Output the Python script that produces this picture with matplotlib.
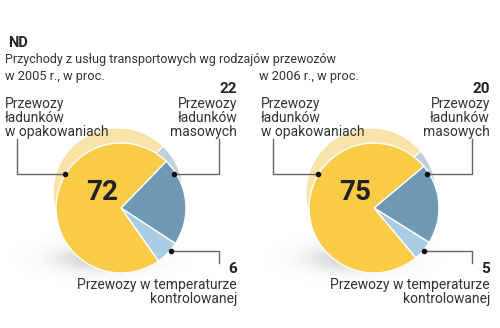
import numpy as np
import matplotlib.pyplot as plt

plt.rcParams['font.family'] = ['Roboto', 'DejaVu Sans']

# shares of transport revenue, per cent
segments = ["Przewozy ładunków masowych",
            "Przewozy w temperaturze kontrolowanej",
            "Przewozy ładunków w opakowaniach"]
share_2005 = [22, 6, 72]
share_2006 = [20, 5, 75]
start_angles = [46, 40]

front_colors = ['#6f98b5', '#a9cce2', '#facb47']
back_colors = ['#bfcfdc', '#d3e1ea', '#f8e3a8']
text_col = '#333333'
line_col = '#666666'

W, H = 500, 328
fig = plt.figure(figsize=(W / 100, H / 100), dpi=100)
ax = fig.add_axes([0, 0, 1, 1])


def shadow(cx, cy, sx, sy):
    xs = np.linspace(cx - 3 * sx, cx + 3 * sx, 120)
    ys = np.linspace(cy - 3 * sy, cy + 3 * sy, 60)
    gx, gy = np.meshgrid(xs, ys)
    a = np.exp(-(((gx - cx) / sx) ** 2 + ((gy - cy) / sy) ** 2) / 2) * 0.45
    img = np.zeros(gx.shape + (4,))
    img[..., :3] = 0.55
    img[..., 3] = a
    ax.imshow(img, extent=(xs[0], xs[-1], ys[0], ys[-1]), origin='lower',
              zorder=0, interpolation='bilinear')


def put_lines(x, y, lines, ha, size=10, step=13.8):
    for i, s in enumerate(lines):
        ax.text(x, y - i * step, s, ha=ha, va='baseline', fontsize=size,
                color=text_col)


def draw_panel(dx, values, start, year_text):
    cx, cy, r = 121 + dx, 120, 65
    shadow(cx - 20, cy - 50, 30, 9)
    ax.pie(values, colors=back_colors, startangle=start, counterclock=False,
           center=(cx - 3, cy + 15), radius=r,
           wedgeprops=dict(edgecolor='white', linewidth=0.8))
    ax.pie(values, colors=front_colors, startangle=start, counterclock=False,
           center=(cx, cy), radius=r,
           wedgeprops=dict(edgecolor='white', linewidth=1.0))

    ax.text(5 if dx == 0 else 259, 248, year_text, ha='left',
            va='baseline', fontsize=9.2, color=text_col)

    # big value of the main segment
    ax.text(cx - 19, 135, str(values[2]), ha='center', va='center',
            fontsize=20, fontweight='bold', color='#222222')

    # left label: packaged goods
    lx = 5 + dx + (3 if dx else 0)
    put_lines(lx, 220, ["Przewozy", "ładunków", "w opakowaniach"], 'left')
    vx = lx + 12
    ax.plot([vx, vx, cx - 56], [189, 154, 154], color=line_col, lw=1,
            zorder=5)
    ax.plot([cx - 56], [154], 'o', color='#111111', ms=3, zorder=6)

    # right label: bulk goods
    rx = 237 + dx
    ax.text(rx, 235, str(values[0]), ha='right', va='baseline',
            fontsize=11, fontweight='bold', color='#222222')
    put_lines(rx, 220, ["Przewozy", "ładunków", "masowych"], 'right')
    ax.plot([rx - 18, rx - 18, cx + 53], [189, 154, 154], color=line_col,
            lw=1, zorder=5)
    ax.plot([cx + 53], [154], 'o', color='#111111', ms=3, zorder=6)

    # bottom label: temperature controlled
    ax.plot([cx + 50, rx - 18, rx - 18], [77, 77, 65], color=line_col,
            lw=1, zorder=5)
    ax.plot([cx + 50], [77], 'o', color='#111111', ms=3, zorder=6)
    ax.text(rx, 55, str(values[1]), ha='right', va='baseline',
            fontsize=11, fontweight='bold', color='#222222')
    put_lines(rx, 39, ["Przewozy w temperaturze", "kontrolowanej"], 'right')


draw_panel(0, share_2005, start_angles[0], "w 2005 r., w proc.")
draw_panel(253, share_2006, start_angles[1], "w 2006 r., w proc.")

ax.text(8, 281, "ND", ha='left', va='baseline', fontsize=10.5,
        fontweight='bold', color='#222222')
ax.text(5, 265, "Przychody z usług transportowych wg rodzajów przewozów",
        ha='left', va='baseline', fontsize=9.0, color=text_col)

ax.set_xlim(0, W)
ax.set_ylim(0, H)
ax.set_aspect('equal')
ax.axis('off')

fig.savefig('out.png', dpi=100, facecolor='white')
